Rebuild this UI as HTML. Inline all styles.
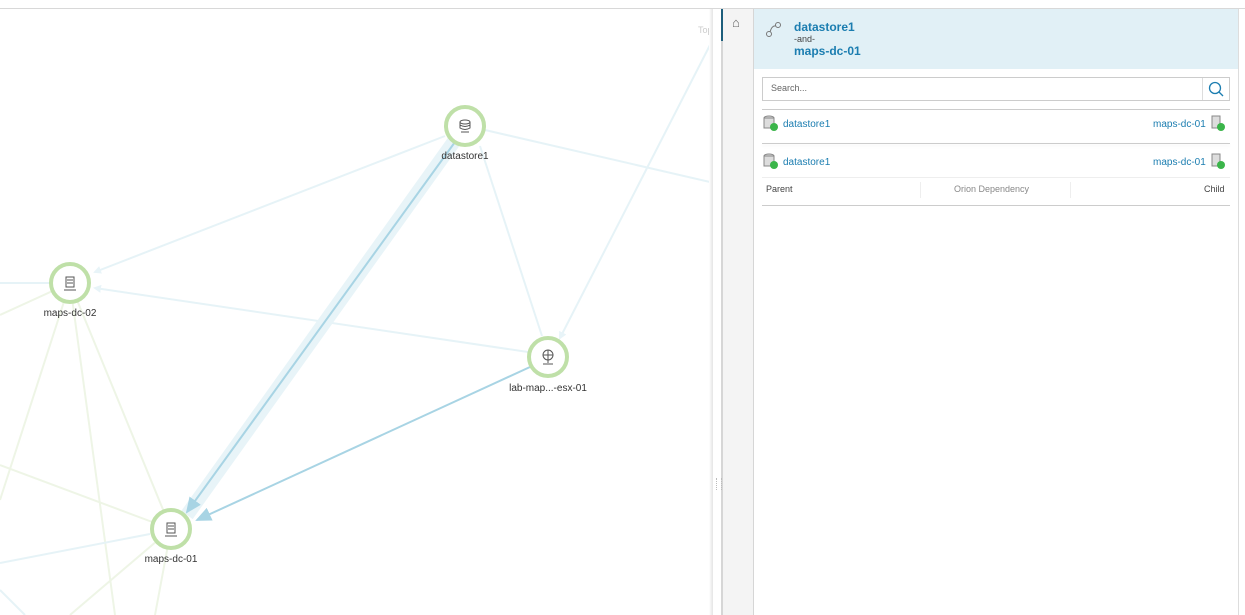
<!DOCTYPE html>
<html><head><style>
body{margin:0;width:1245px;height:615px;overflow:hidden;background:#fff;font-family:"Liberation Sans",sans-serif;position:relative}
.a{position:absolute}
.lnk{color:#1b7db0;font-size:10px}
</style></head><body>
<div class="a" style="left:0;top:0;width:1245px;height:8px;background:#fff;border-bottom:1px solid #d8d8d8"></div>
<svg class="a" style="left:0;top:9px" width="710" height="606" viewBox="0 9 710 606">
<defs>
<marker id="al" markerWidth="8" markerHeight="8" refX="6" refY="4" orient="auto" markerUnits="userSpaceOnUse"><path d="M0,0L8,4L0,8z" fill="#e8f4f8"/></marker>
<marker id="ab" markerWidth="16" markerHeight="14" refX="14" refY="7" orient="auto" markerUnits="userSpaceOnUse"><path d="M0,0L16,7L0,14z" fill="#a8d4e4"/></marker>
</defs>
<g stroke="#eef5e6" stroke-width="2" fill="none">
<line x1="70" y1="283" x2="0" y2="315"/><line x1="70" y1="283" x2="0" y2="500"/>
<line x1="70" y1="283" x2="115" y2="615"/><line x1="70" y1="283" x2="171" y2="529"/>
<line x1="0" y1="465" x2="171" y2="529"/><line x1="171" y1="529" x2="70" y2="615"/>
<line x1="171" y1="529" x2="155" y2="615"/>
</g>
<g stroke="#e6f3f7" stroke-width="2" fill="none">
<line x1="0" y1="283" x2="50" y2="283"/>
<line x1="0" y1="563" x2="150" y2="534"/><line x1="0" y1="590" x2="25" y2="615"/>
<line x1="445" y1="136" x2="95" y2="272" marker-end="url(#al)"/>
<line x1="528" y1="352" x2="95" y2="288" marker-end="url(#al)"/>
<line x1="485" y1="130" x2="710" y2="182"/>
<line x1="480" y1="146" x2="542" y2="336"/>
<line x1="710" y1="45" x2="560" y2="338" marker-end="url(#al)"/>
</g>
<line x1="455" y1="140" x2="187" y2="515" stroke="#e8f4f8" stroke-width="14"/>
<line x1="455" y1="142" x2="187" y2="512" stroke="#a8d4e4" stroke-width="2" marker-end="url(#ab)"/>
<line x1="530" y1="367" x2="197" y2="520" stroke="#a8d4e4" stroke-width="2" marker-end="url(#ab)"/>
<g fill="#fff" stroke="#bfe0a8" stroke-width="4">
<circle cx="465" cy="126" r="19"/><circle cx="70" cy="283" r="19"/><circle cx="548" cy="357" r="19"/><circle cx="171" cy="529" r="19"/>
</g>
<g fill="none" stroke="#555" stroke-width="1">
<ellipse cx="465" cy="122" rx="5" ry="2"/><path d="M460,122v6q5,3 10,0v-6M460,125q5,3 10,0M461,132h8"/>
<rect x="66" y="277" width="8" height="10"/><path d="M67,280h6M67,283h6M64,290h12"/>
<rect x="167" y="523" width="8" height="10"/><path d="M168,526h6M168,529h6M165,536h12"/>
<circle cx="548" cy="355" r="5"/><path d="M543,355h10M548,350v10M548,360v3M543,364h10"/>
</g>
<g font-size="10" fill="#333" text-anchor="middle">
<text x="465" y="159">datastore1</text><text x="70" y="316">maps-dc-02</text>
<text x="548" y="391">lab-map...-esx-01</text><text x="171" y="562">maps-dc-01</text>
</g>
<text x="698" y="33" font-size="9" fill="#ccc">Top</text>
</svg>
<div class="a" style="left:709px;top:9px;width:4px;height:606px;background:linear-gradient(90deg,#fff,#e4e4e4)"></div>
<div class="a" style="left:721px;top:9px;width:2px;height:606px;background:#d6d6d6"></div>
<div class="a" style="left:716px;top:478px;width:4px;height:12px;border-left:1px dotted #bbb;border-right:1px dotted #bbb"></div>
<div class="a" style="left:723px;top:9px;width:30px;height:606px;background:#f4f4f4;border-right:1px solid #d6d6d6"></div>
<div class="a" style="left:721px;top:9px;width:2px;height:32px;background:#1d5e7c"></div>
<div class="a" style="left:732px;top:15px;font-size:13px;color:#666">⌂</div>
<div class="a" style="left:754px;top:9px;width:484px;height:60px;background:#e1f0f6"></div>
<div class="a" style="left:1238px;top:9px;width:1px;height:606px;background:#ddd"></div>
<svg class="a" style="left:764px;top:20px" width="20" height="20"><circle cx="5" cy="14" r="2.5" fill="none" stroke="#777"/><circle cx="14" cy="5" r="2.5" fill="none" stroke="#777"/><path d="M6,12Q8,5 12,6" fill="none" stroke="#777"/></svg>
<div class="a" style="left:794px;top:20px;font-size:12px;font-weight:bold;color:#1b7db0">datastore1</div>
<div class="a" style="left:794px;top:34px;font-size:9px;color:#444">-and-</div>
<div class="a" style="left:794px;top:44px;font-size:12px;font-weight:bold;color:#1b7db0">maps-dc-01</div>
<div class="a" style="left:762px;top:77px;width:466px;height:22px;border:1px solid #ccc"></div>
<div class="a" style="left:1202px;top:78px;width:1px;height:22px;background:#ddd"></div>
<div class="a" style="left:771px;top:83px;font-size:9px;color:#666">Search...</div>
<svg class="a" style="left:1207px;top:80px" width="18" height="18"><circle cx="8" cy="8" r="5.5" fill="none" stroke="#1b7db0" stroke-width="1.3"/><path d="M12,12L16,16" stroke="#1b7db0" stroke-width="1.3"/></svg>
<div class="a" style="left:762px;top:109px;width:468px;height:1px;background:#ccc"></div>
<div class="a" style="left:762px;top:143px;width:468px;height:1px;background:#ccc;box-shadow:0 2px 3px #eee"></div>
<div class="a" style="left:762px;top:177px;width:468px;height:1px;background:#eee"></div>
<div class="a" style="left:762px;top:205px;width:468px;height:1px;background:#ccc"></div>
<div class="a lnk" style="left:783px;top:119px">datastore1</div>
<div class="a lnk" style="left:1153px;top:119px">maps-dc-01</div>
<div class="a lnk" style="left:783px;top:157px">datastore1</div>
<div class="a lnk" style="left:1153px;top:157px">maps-dc-01</div>
<svg class="a" style="left:763px;top:115px" width="16" height="56">
<ellipse cx="6" cy="3" rx="5" ry="2" fill="#ddd" stroke="#888"/><rect x="1" y="3" width="10" height="10" fill="#ddd" stroke="#888"/><circle cx="11" cy="12" r="4" fill="#3bb54a"/>
<ellipse cx="6" cy="41" rx="5" ry="2" fill="#ddd" stroke="#888"/><rect x="1" y="41" width="10" height="10" fill="#ddd" stroke="#888"/><circle cx="11" cy="50" r="4" fill="#3bb54a"/>
</svg>
<svg class="a" style="left:1210px;top:115px" width="18" height="56">
<rect x="2" y="1" width="8" height="12" fill="#ddd" stroke="#888"/><circle cx="11" cy="12" r="4" fill="#3bb54a"/>
<rect x="2" y="39" width="8" height="12" fill="#ddd" stroke="#888"/><circle cx="11" cy="50" r="4" fill="#3bb54a"/>
</svg>
<div class="a" style="left:766px;top:184px;font-size:9px;color:#444">Parent</div>
<div class="a" style="left:920px;top:182px;width:1px;height:16px;background:#eee"></div>
<div class="a" style="left:954px;top:184px;font-size:9px;color:#888">Orion Dependency</div>
<div class="a" style="left:1070px;top:182px;width:1px;height:16px;background:#eee"></div>
<div class="a" style="left:1204px;top:184px;font-size:9px;color:#444">Child</div>
</body></html>
